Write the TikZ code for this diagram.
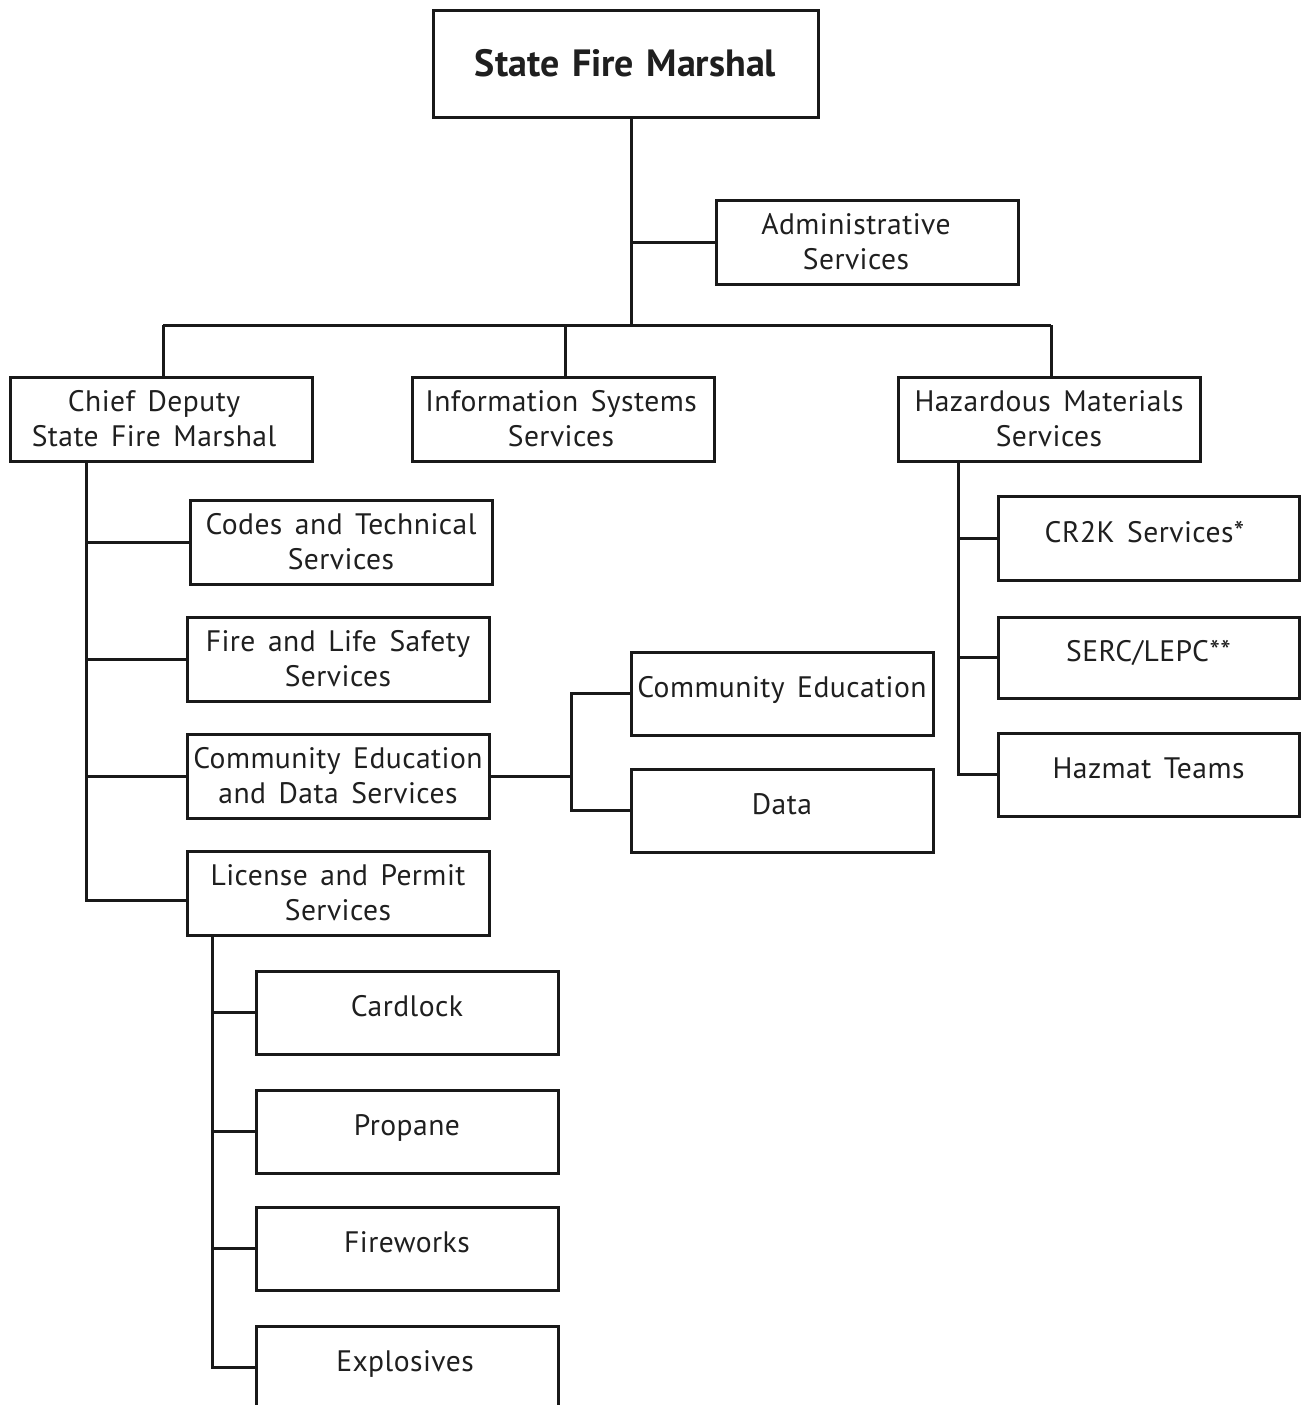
\documentclass[tikz,border=0pt]{standalone}
\usepackage{fontspec}
\setmainfont{PT Sans}[LetterSpace=1.5, WordSpace={1.5}, BoldFeatures={LetterSpace=0, WordSpace={1.3}}]
\begin{document}
\begin{tikzpicture}[x=0.5pt,y=-0.5pt,
  line width=1.5pt,
  lbl/.style={font=\fontsize{14.8}{17.5}\selectfont, align=center, inner sep=0pt, text=black!88},
  box/.style={draw=black!90, line width=1.5pt, rectangle, inner sep=0pt, minimum width=151pt, minimum height=42pt, lbl},
  one/.style={text height=10pt, text depth=6pt},
  link/.style={draw=black!90, line width=1.5pt}
]
\useasboundingbox (0,0) rectangle (1301,1405);
\clip (0,0) rectangle (1301,1405);
% top
\node[box, minimum width=192.5pt, minimum height=53.5pt, font=\fontsize{19}{24}\selectfont\bfseries] (sfm) at (625.5,63.5) {State Fire Marshal};
\node[box] (adm) at (867,242) {Administrative\hspace*{11pt}\\Services\hspace*{11pt}};
\node[box] (chief) at (161,419) {Chief Deputy\hspace*{7pt}\\State Fire Marshal\hspace*{7pt}};
\node[box] (info) at (563,419) {Information Systems\hspace*{2pt}\\Services\hspace*{2pt}};
\node[box] (haz) at (1049,419) {Hazardous Materials\\Services};
% chief branch
\node[box] (codes) at (341,542) {Codes and Technical\\Services};
\node[box] (fls) at (338,659) {Fire and Life Safety\\Services};
\node[box] (ceds) at (338,776) {Community Education\\and Data Services};
\node[box] (lps) at (338,893) {License and Permit\\Services};
\node[box, one, minimum height=41.5pt] (ce) at (782,693.5) {Community Education};
\node[box, one, minimum height=41.5pt] (data) at (782,810.5) {Data};
\node[box, one, minimum height=41.5pt] (card) at (407,1012.5) {Cardlock};
\node[box, one, minimum height=41.5pt] (prop) at (407,1131.5) {Propane};
\node[box, one, minimum height=41.5pt] (fire) at (407,1248.5) {Fireworks};
\node[box, minimum height=60pt] (expl) at (407,1386) {};
\node[lbl, one] (expltxt) at (405,1367) {Explosives};
% haz branch
\node[box, one, minimum width=150.5pt] (cr2k) at (1148.5,538) {CR2K Services*\hspace*{4pt}};
\node[box, one, minimum width=150.5pt, minimum height=40.5pt] (serc) at (1148.5,657.5) {SERC/LEPC**};
\node[box, one, minimum width=150.5pt, minimum height=41.5pt] (hzt) at (1148.5,774.5) {Hazmat Teams};
% coordinates
\coordinate (t) at (631,325);
\coordinate (bl) at (163,325);
\coordinate (bm) at (565,325);
\coordinate (br) at (1051,325);
\coordinate (c1) at (86,900);
\coordinate (dj) at (571,776);
\coordinate (l1) at (212,1367);
\coordinate (h1) at (958,774);
% connectors
\draw[link] (sfm.south -| t) -- (t);
\draw[link] (t |- adm.west) -- (adm.west);
\draw[link] (bl) -- (br);
\draw[link] (bl) -- (bl |- chief.north);
\draw[link] (bm) -- (bm |- info.north);
\draw[link] (br) -- (br |- haz.north);
\draw[link] (chief.south -| c1) -- (c1) -- (c1 -| lps.west);
\draw[link] (c1 |- codes.west) -- (codes.west);
\draw[link] (c1 |- fls.west) -- (fls.west);
\draw[link] (c1 |- ceds.west) -- (ceds.west);
\draw[link] (ceds.east) -- (dj);
\draw[link] (ce.west) -- (dj |- ce.west) -- (dj |- data.west) -- (data.west);
\draw[link] (lps.south -| l1) -- (l1) -- (l1 -| expl.west);
\draw[link] (l1 |- card.west) -- (card.west);
\draw[link] (l1 |- prop.west) -- (prop.west);
\draw[link] (l1 |- fire.west) -- (fire.west);
\draw[link] (haz.south -| h1) -- (h1) -- (h1 -| hzt.west);
\draw[link] (h1 |- cr2k.west) -- (cr2k.west);
\draw[link] (h1 |- serc.west) -- (serc.west);
\end{tikzpicture}
\end{document}
